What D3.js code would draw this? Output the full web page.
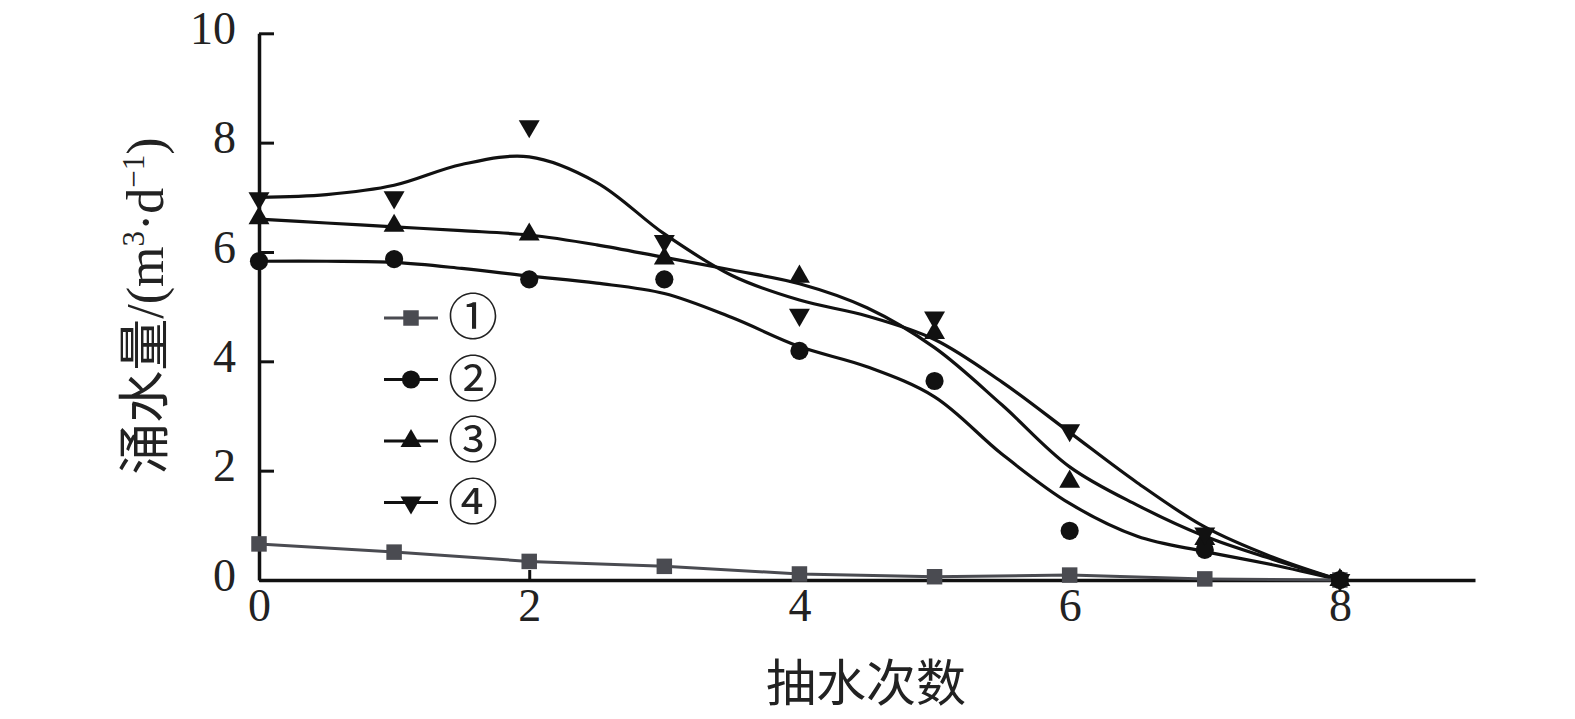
<!DOCTYPE html>
<html><head><meta charset="utf-8">
<script src="https://cdn.jsdelivr.net/npm/d3@7"></script>
<style>body{margin:0;background:#fff}svg{display:block}</style>
</head><body>
<svg id="c" width="1575" height="719"></svg>
<script>
// ---- data ----
const runs = [0,1,2,3,4,5,6,7,8];
const s1 = [0.66,0.51,0.34,0.25,0.11,0.06,0.09,0.02,0];
const s2 = [5.83,5.87,5.50,5.50,4.19,3.64,0.90,0.55,0];
const s3 = [6.62,6.48,6.32,5.88,5.55,4.52,1.80,0.75,0];
const s4 = [6.98,7.00,8.30,6.20,4.85,4.80,2.74,0.85,0];
// fitted curves
const fitX = [0,0.5,1,1.5,2,2.5,3,3.5,4,4.5,5,5.5,6,6.5,7,7.5,8];
const fit2 = [5.83,5.83,5.81,5.70,5.56,5.43,5.24,4.80,4.27,3.90,3.35,2.30,1.40,0.80,0.52,0.28,0];
const fit3 = [6.60,6.53,6.46,6.39,6.31,6.13,5.90,5.67,5.42,4.98,4.25,3.20,2.07,1.37,0.80,0.38,0];
const fit4 = [7.00,7.05,7.22,7.60,7.74,7.27,6.33,5.57,5.12,4.83,4.40,3.62,2.70,1.78,0.97,0.42,0];
const xTicks = [0,2,4,6,8];
const yTicks = [0,2,4,6,8,10];
const legendLabels = ["①","②","③","④"];
const xTitle = "抽水次数";

const svg = d3.select("#c");
const x = d3.scaleLinear().domain([0,9]).range([259,1475]);
const y = d3.scaleLinear().domain([0,10]).range([580,33.3]);
const black = "#111", gray = "#4a4b51";
const serif = "'Liberation Serif','Times New Roman',serif";

// axes
const gy = svg.append("g").attr("transform",`translate(${x(0)},0)`)
  .call(d3.axisLeft(y).tickValues(yTicks).tickSize(-15).tickSizeOuter(0).tickPadding(23).tickFormat(d3.format("d")));
gy.select(".domain").attr("stroke",black).attr("stroke-width",3.5);
gy.selectAll(".tick line").attr("stroke",black).attr("stroke-width",3);
gy.selectAll(".tick text").attr("font-family",serif).attr("font-size",46).attr("fill","#222").attr("dy","0.22em");

const gx = svg.append("g").attr("transform",`translate(0,${y(0)})`)
  .call(d3.axisBottom(x).tickValues(xTicks).tickSize(-10).tickSizeOuter(0).tickPadding(8).tickFormat(d3.format("d")));
gx.select(".domain").attr("stroke",black).attr("stroke-width",3.5);
gx.selectAll(".tick line").attr("stroke",black).attr("stroke-width",3);
gx.selectAll(".tick text").attr("font-family",serif).attr("font-size",46).attr("fill","#222");

// axis titles
svg.append("text").attr("x",866).attr("y",701).attr("text-anchor","middle")
  .attr("font-family","'Noto Sans CJK SC',sans-serif").attr("font-size",50).attr("fill","#222").text(xTitle);

const yt = svg.append("text").attr("transform","translate(163,306) rotate(-90)").attr("text-anchor","middle")
  .attr("font-family",serif).attr("font-size",52).attr("fill","#222");
yt.append("tspan").attr("font-family","'Noto Sans CJK SC',sans-serif").text("涌水量");
yt.append("tspan").text("/(m");
yt.append("tspan").attr("font-size",31).attr("dy",-19).text("3");
yt.append("tspan").attr("dy",19).text("·d");
yt.append("tspan").attr("font-size",31).attr("dy",-19).text("−1");
yt.append("tspan").attr("dy",19).text(")");

// lines
const lineFit = d3.line().x((d,i)=>x(fitX[i])).y(d=>y(d)).curve(d3.curveCatmullRom.alpha(0.5));
const lineLin = d3.line().x((d,i)=>x(runs[i])).y(d=>y(d));
[fit2,fit3,fit4].forEach(f=>{
  svg.append("path").attr("d",lineFit(f)).attr("fill","none").attr("stroke",black).attr("stroke-width",3.2);
});
svg.append("path").attr("d",lineLin(s1)).attr("fill","none").attr("stroke",gray).attr("stroke-width",3);

// markers
const series = [
  {vals:s1, sym:d3.symbolSquare, size:240, rot:0, color:gray},
  {vals:s2, sym:d3.symbolCircle, size:260, rot:0, color:black},
  {vals:s3, sym:d3.symbolTriangle, size:190, rot:0, color:black},
  {vals:s4, sym:d3.symbolTriangle, size:190, rot:180, color:black}
];
series.forEach(s=>{
  const p = d3.symbol().type(s.sym).size(s.size)();
  svg.append("g").selectAll("path").data(s.vals).join("path")
    .attr("d",p).attr("fill",s.color)
    .attr("transform",(d,i)=>`translate(${x(runs[i])},${y(d)}) rotate(${s.rot})`);
});

// legend
series.forEach((s,i)=>{
  const ly = 318 + i*61.5;
  const g = svg.append("g").attr("transform",`translate(0,${ly})`);
  g.append("line").attr("x1",384).attr("x2",438).attr("y1",0).attr("y2",0)
    .attr("stroke",s.color).attr("stroke-width",3);
  g.append("path").attr("d",d3.symbol().type(s.sym).size(s.size)()).attr("fill",s.color)
    .attr("transform",`translate(411,0) rotate(${s.rot})`);
  g.append("text").attr("x",448).attr("y",17).attr("font-family",serif+",'DejaVu Serif','Noto Sans CJK SC'")
    .attr("font-size",50).attr("fill","#222").text(legendLabels[i]);
});
</script>
</body></html>
